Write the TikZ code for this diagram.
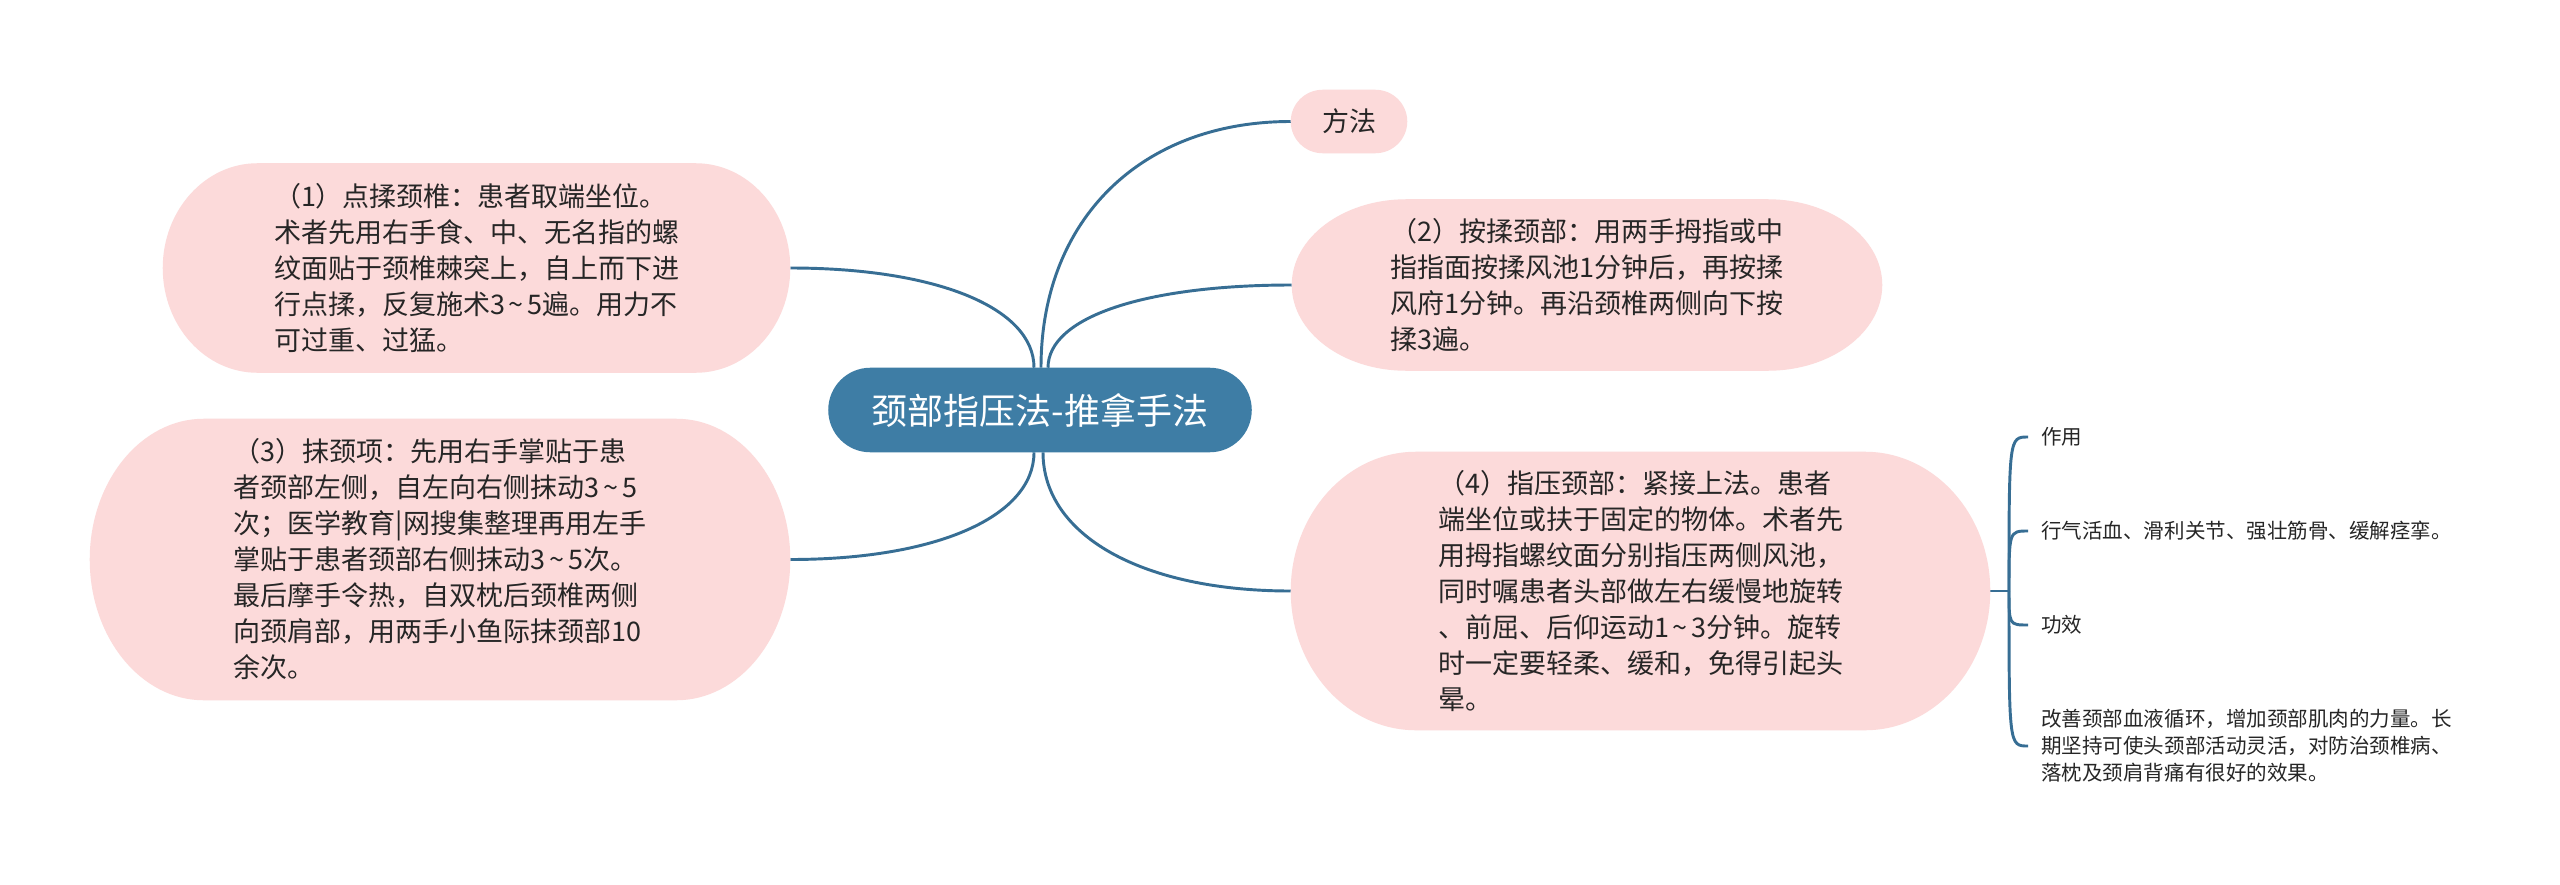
\documentclass[tikz,border=0pt]{standalone}
\usepackage{fontspec}
\setmainfont{Noto Sans CJK SC}
\usetikzlibrary{calc}
\pgfdeclarelayer{bg}
\pgfsetlayers{bg,main}
\definecolor{pinkfill}{HTML}{FCDADA}
\definecolor{rootblue}{HTML}{3E7DA5}
\definecolor{linkblue}{HTML}{376E94}
\definecolor{txt}{HTML}{262626}
\newcommand\wtilde{\makebox[0.85em][c]{\textasciitilde}}
\newcommand\pillfill[3]{%
  \fill[#1] let \p1=(#2.south west), \p2=(#2.north east), \n1={(\y2-\y1)/2} in
    (\x1+#3,\y1) -- (\x2-#3,\y1)
    arc[start angle=-90,end angle=90,x radius=#3,y radius=\n1]
    -- (\x1+#3,\y2)
    arc[start angle=90,end angle=270,x radius=#3,y radius=\n1] -- cycle;}
\begin{document}
\begin{tikzpicture}[x=0.75pt,y=-0.75pt,
  body/.style={font=\fontsize{20.25pt}{27pt}\selectfont, text=txt, align=left, inner sep=0pt},
  small/.style={font=\fontsize{15.4pt}{20.25pt}\selectfont, text=txt, align=left, inner xsep=9.75pt, inner ysep=0pt, anchor=west},
  rootstyle/.style={font=\fontsize{27pt}{32pt}\selectfont, text=white, inner sep=0pt},
  link/.style={draw=linkblue, line width=2.2pt}]
\useasboundingbox (0,0) rectangle (2560,885);

\node[rootstyle, minimum width=317.25pt, minimum height=63pt] (root) at (1040,410) {颈部指压法-推拿手法};

\node[body, minimum width=87pt, minimum height=47.25pt] (fa) at (1349,121.5) {方法};

\node[body, minimum width=470.25pt, minimum height=156.75pt] (n1) at (476.5,268) {（1）点揉颈椎：患者取端坐位。\\术者先用右手食、中、无名指的螺\\纹面贴于颈椎棘突上，自上而下进\\行点揉，反复施术3\wtilde5遍。用力不\\可过重、过猛。};

\node[body, minimum width=442.5pt, minimum height=128.25pt] (n2) at (1587,285) {（2）按揉颈部：用两手拇指或中\\指指面按揉风池1分钟后，再按揉\\风府1分钟。再沿颈椎两侧向下按\\揉3遍。};

\node[body, minimum width=525pt, minimum height=210.75pt] (n3) at (440,559.5) {（3）抹颈项：先用右手掌贴于患\\者颈部左侧，自左向右侧抹动3\wtilde5\\次；医学教育|网搜集整理再用左手\\掌贴于患者颈部右侧抹动3\wtilde5次。\\最后摩手令热，自双枕后颈椎两侧\\向颈肩部，用两手小鱼际抹颈部10\\余次。};

\node[body, minimum width=524.25pt, minimum height=208.5pt] (n4) at (1640.5,591) {（4）指压颈部：紧接上法。患者\\端坐位或扶于固定的物体。术者先\\用拇指螺纹面分别指压两侧风池，\\同时嘱患者头部做左右缓慢地旋转\\、前屈、后仰运动1\wtilde3分钟。旋转\\时一定要轻柔、缓和，免得引起头\\晕。};

\node[small] (c1) at (2028,437) {作用};
\node[small] (c2) at (2028,531) {行气活血、滑利关节、强壮筋骨、缓解痉挛。};
\node[small] (c3) at (2028,625) {功效};
\node[small] (c4) at (2028,746) {改善颈部血液循环，增加颈部肌肉的力量。长\\期坚持可使头颈部活动灵活，对防治颈椎病、\\落枕及颈肩背痛有很好的效果。};

\coordinate (J) at (2009,591);

\begin{pgfonlayer}{bg}
\fill[white] (0,0) rectangle (2560,885);
\draw[link] ([xshift=-4.5pt]root.north) .. controls +(0,-60) and +(146,0) .. (n1.east);
\draw[link] ([xshift=0.75pt]root.north) .. controls +(0,-148) and +(-150,0) .. (fa.west);
\draw[link] ([xshift=6pt]root.north) .. controls +(0,-51) and +(-146,0) .. (n2.west);
\draw[link] ([xshift=-4.5pt]root.south) .. controls +(0,64) and +(147,0) .. (n3.east);
\draw[link] ([xshift=2.25pt]root.south) .. controls +(0,83) and +(-149,0) .. (n4.west);
\draw[link] (n4.east) -- (J);
\draw[link] (J) .. controls (J |- c1.west) and (J |- c1.west) .. (c1.west);
\draw[link] (J) .. controls (J |- c2.west) and (J |- c2.west) .. (c2.west);
\draw[link] (J) .. controls (J |- c3.west) and (J |- c3.west) .. (c3.west);
\draw[link] (J) .. controls (J |- c4.west) and (J |- c4.west) .. (c4.west);
\pillfill{rootblue}{root}{31.5pt}
\pillfill{pinkfill}{fa}{24pt}
\pillfill{pinkfill}{n1}{71pt}
\pillfill{pinkfill}{n2}{86pt}
\pillfill{pinkfill}{n3}{85.5pt}
\pillfill{pinkfill}{n4}{94pt}
\end{pgfonlayer}
\end{tikzpicture}
\end{document}
